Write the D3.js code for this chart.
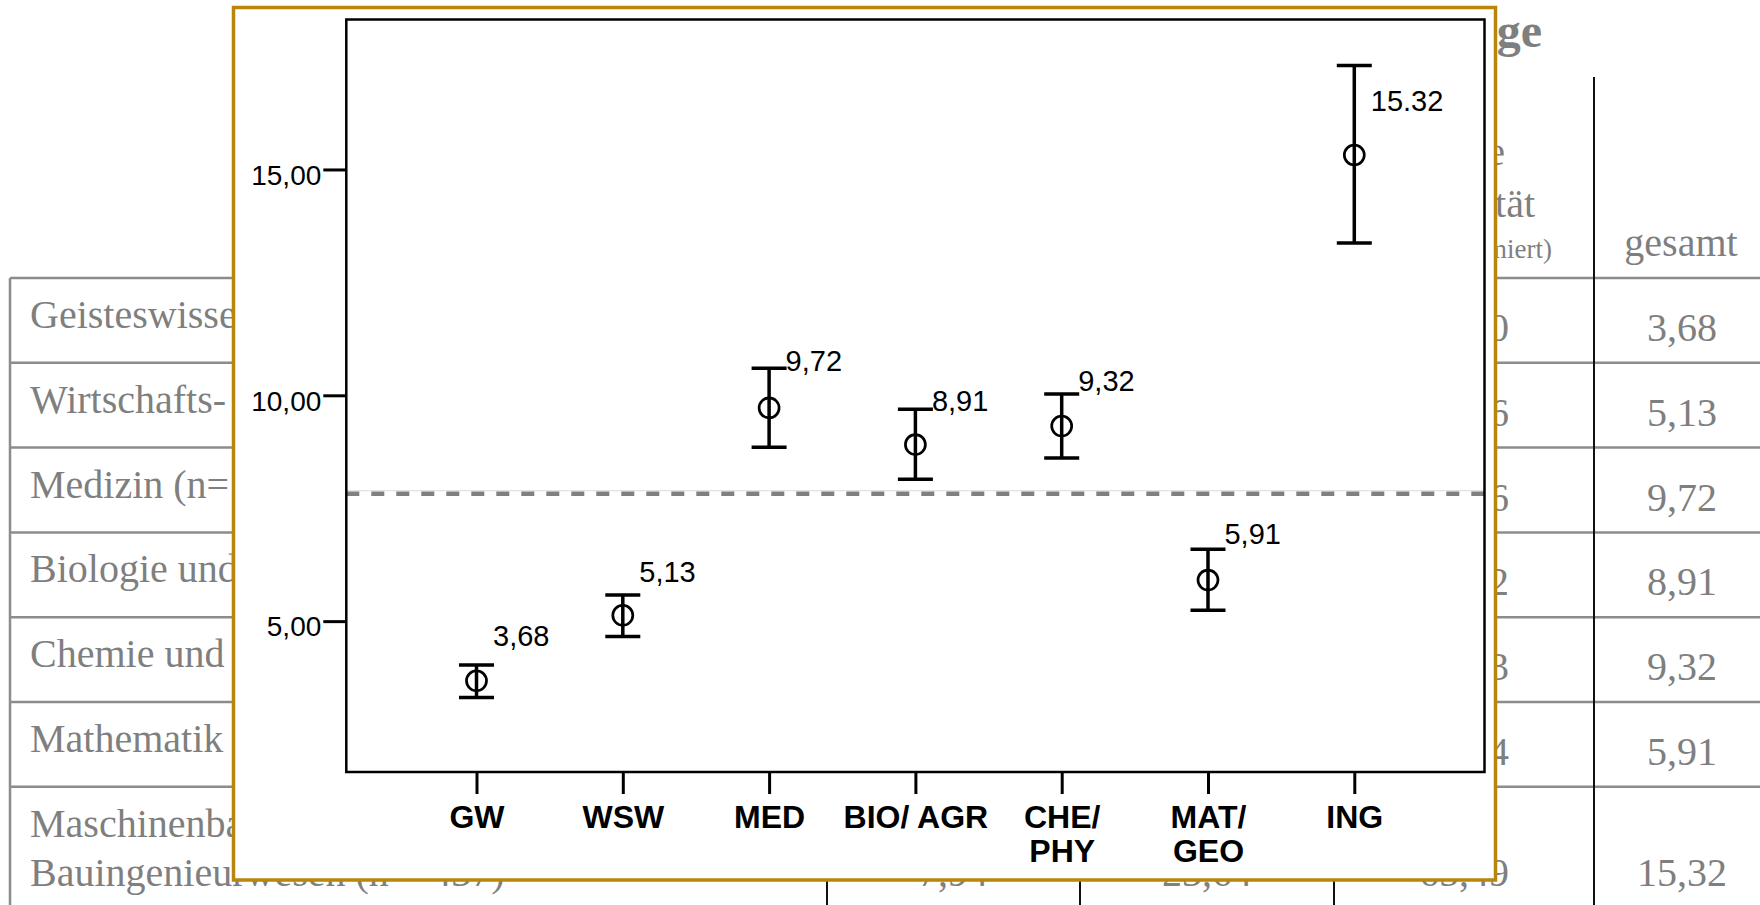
<!DOCTYPE html>
<html>
<head>
<meta charset="utf-8">
<script src="https://cdn.jsdelivr.net/npm/d3@7"></script>
<style>
  html, body { margin: 0; padding: 0; background: #fff; overflow: hidden; }
  svg { display: block; }
</style>
</head>
<body>
<svg id="chart" width="1760" height="905"></svg>
<script>
// ---- Daten: Fächergruppen, Mittelwerte, 95%-Konfidenzintervalle ----
const categories = ["GW", "WSW", "MED", "BIO/ AGR", "CHE/\nPHY", "MAT/\nGEO", "ING"];
const means      = [3.68, 5.13, 9.72, 8.91, 9.32, 5.91, 15.32];
const ciLower    = [3.31, 4.66, 8.85, 8.14, 8.61, 5.24, 13.37];
const ciUpper    = [4.03, 5.58, 10.60, 9.69, 10.03, 6.59, 17.30];
const valueLabels = ["3,68", "5,13", "9,72", "8,91", "9,32", "5,91", "15.32"];
const overallMean = 7.82;
const yTickValues = [5, 10, 15];
const yTickLabels = ["5,00", "10,00", "15,00"];

// ---- Tabelle im Hintergrund ----
const rowLabels = [
  ["Geisteswissenschaften"],
  ["Wirtschafts-"],
  ["Medizin (n="],
  ["Biologie und Agrarwissenschaften"],
  ["Chemie und"],
  ["Mathematik und Geowissenschaften"],
  ["Maschinenbau und", "Bauingenieurwesen (n = 437)"]
];
const totalLabels = means.map(v => d3.format(".2f")(v).replace(".", ","));
const column3Tails = ["0", "6", "6", "2", "3", "4"];
const lastRowValues = ["7,94", "23,64", "65,49"];
const headerLines = ["Durchschnittliche", "Produktivität"];
const headerNote = "(normiert)";
const headerTotal = "gesamt";
const titleText = "Beiträge";

const W = 1760, H = 905;
const svg = d3.select("#chart");
svg.append("rect").attr("width", W).attr("height", H).attr("fill", "#fff");

const serif = "'Liberation Serif', 'DejaVu Serif', serif";
const sans = "'Liberation Sans', Arial, sans-serif";
const tableGray = "#7f7f7f";
const ruleGray = "#8c8c8c";

// Tabellenraster
const table = svg.append("g");
const rowTop = d3.range(rowLabels.length).map(i => 278 + i * 84.8);
const colLines = [827, 1080, 1334, 1594];

table.selectAll("line.row").data(rowTop).join("line")
  .attr("x1", 10).attr("x2", W)
  .attr("y1", d => d).attr("y2", d => d)
  .attr("stroke", ruleGray).attr("stroke-width", 2.5);

table.append("line")
  .attr("x1", 10).attr("x2", 10).attr("y1", 278).attr("y2", H)
  .attr("stroke", ruleGray).attr("stroke-width", 2.5);

table.selectAll("line.col").data(colLines).join("line")
  .attr("x1", d => d).attr("x2", d => d)
  .attr("y1", 77).attr("y2", H)
  .attr("stroke", "#111").attr("stroke-width", 2);

// Zeilenbeschriftungen
rowLabels.forEach((lines, i) => {
  const t = table.append("text")
    .attr("x", 30).attr("y", rowTop[i] + 50)
    .attr("font-family", serif).attr("font-size", 40)
    .attr("fill", tableGray);
  lines.forEach((s, j) => {
    t.append("tspan").attr("x", 30).attr("dy", j === 0 ? 0 : 49).text(s);
  });
});

// Spalte "gesamt"
table.selectAll("text.total").data(totalLabels).join("text")
  .attr("x", 1682)
  .attr("y", (d, i) => i < 6 ? rowTop[i] + 63 : 886)
  .attr("text-anchor", "middle")
  .attr("font-family", serif).attr("font-size", 40)
  .attr("fill", tableGray)
  .text(d => d);

// dritte Spalte (größtenteils verdeckt)
table.selectAll("text.c3").data(column3Tails).join("text")
  .attr("x", 1509).attr("y", (d, i) => rowTop[i] + 63)
  .attr("text-anchor", "end")
  .attr("font-family", serif).attr("font-size", 40)
  .attr("fill", tableGray)
  .text(d => d);

// letzte Zeile, Spalten 1-3
const lastRowX = [953, 1207, 1464];
table.selectAll("text.last").data(lastRowValues).join("text")
  .attr("x", (d, i) => lastRowX[i]).attr("y", 886)
  .attr("text-anchor", "middle")
  .attr("font-family", serif).attr("font-size", 40)
  .attr("fill", tableGray)
  .text(d => d);

// Kopfzeile
table.append("text").attr("x", 1542).attr("y", 47)
  .attr("text-anchor", "end").attr("font-family", serif)
  .attr("font-size", 48).attr("font-weight", "bold")
  .attr("fill", tableGray).text(titleText);
table.append("text").attr("x", 1505).attr("y", 165)
  .attr("text-anchor", "end").attr("font-family", serif)
  .attr("font-size", 40).attr("fill", tableGray).text(headerLines[0]);
table.append("text").attr("x", 1535).attr("y", 217)
  .attr("text-anchor", "end").attr("font-family", serif)
  .attr("font-size", 40).attr("fill", tableGray).text(headerLines[1]);
table.append("text").attr("x", 1552).attr("y", 258)
  .attr("text-anchor", "end").attr("font-family", serif)
  .attr("font-size", 27).attr("fill", tableGray).text(headerNote);
table.append("text").attr("x", 1681).attr("y", 256)
  .attr("text-anchor", "middle").attr("font-family", serif)
  .attr("font-size", 40).attr("fill", tableGray).text(headerTotal);

// ---- Diagrammrahmen ----
svg.append("rect")
  .attr("x", 233.5).attr("y", 7.5).attr("width", 1262).attr("height", 872.5)
  .attr("fill", "#fff").attr("stroke", "#b8860b").attr("stroke-width", 3.5);

const plot = { left: 346.3, right: 1484.5, top: 19.5, bottom: 772 };

const x = d3.scalePoint()
  .domain(categories)
  .range([plot.left, plot.right])
  .padding(0.89);

const y = d3.scaleLinear()
  .domain([1.66, 18.32])
  .range([plot.bottom, plot.top]);

const g = svg.append("g");

// Referenzlinie (Gesamtmittel)
g.append("line")
  .attr("x1", plot.left).attr("x2", plot.right)
  .attr("y1", y(overallMean) - 3).attr("y2", y(overallMean) - 3)
  .attr("stroke", "#d9d9d9").attr("stroke-width", 1);
g.append("line")
  .attr("x1", plot.left).attr("x2", plot.right)
  .attr("y1", y(overallMean)).attr("y2", y(overallMean))
  .attr("stroke", "#808080").attr("stroke-width", 4.5)
  .attr("stroke-dasharray", "13,12");

// Fehlerbalken
const capHalf = 17.5;
const labelShift = [-19, -13, 3, 1.5, -2.5, -5, 45];
const pts = categories.map((c, i) => ({
  c, m: means[i], lo: ciLower[i], hi: ciUpper[i], label: valueLabels[i], shift: labelShift[i]
}));

const bars = g.selectAll("g.bar").data(pts).join("g")
  .attr("transform", d => `translate(${x(d.c)},0)`);

bars.append("line")
  .attr("x1", 0).attr("x2", 0)
  .attr("y1", d => y(d.hi)).attr("y2", d => y(d.lo))
  .attr("stroke", "#000").attr("stroke-width", 3.5);
bars.append("line")
  .attr("x1", -capHalf).attr("x2", capHalf)
  .attr("y1", d => y(d.hi)).attr("y2", d => y(d.hi))
  .attr("stroke", "#000").attr("stroke-width", 3.5);
bars.append("line")
  .attr("x1", -capHalf).attr("x2", capHalf)
  .attr("y1", d => y(d.lo)).attr("y2", d => y(d.lo))
  .attr("stroke", "#000").attr("stroke-width", 3.5);
bars.append("circle")
  .attr("cx", 0).attr("cy", d => y(d.m)).attr("r", 10)
  .attr("fill", "none").attr("stroke", "#000").attr("stroke-width", 2.7);
bars.append("text")
  .attr("x", capHalf - 1)
  .attr("y", d => y(d.hi) + d.shift)
  .attr("font-family", sans).attr("font-size", 29)
  .attr("fill", "#000")
  .text(d => d.label);

// Achsen
const yAxis = d3.axisLeft(y)
  .tickValues(yTickValues)
  .tickSize(23)
  .tickPadding(2)
  .tickFormat((d, i) => yTickLabels[i]);

const yg = g.append("g")
  .attr("transform", `translate(${plot.left},0)`)
  .call(yAxis);
yg.select(".domain").remove();
yg.selectAll(".tick line").attr("stroke", "#000").attr("stroke-width", 3);
yg.selectAll(".tick text")
  .attr("font-family", sans).attr("font-size", 28)
  .attr("fill", "#000").attr("dy", "0.53em");

const xAxis = d3.axisBottom(x).tickSize(22).tickFormat("");
const xg = g.append("g")
  .attr("transform", `translate(0,${plot.bottom})`)
  .call(xAxis);
xg.select(".domain").remove();
xg.selectAll(".tick line").attr("stroke", "#000").attr("stroke-width", 3);
xg.selectAll(".tick").each(function (d) {
  const t = d3.select(this).append("text")
    .attr("y", 56)
    .attr("text-anchor", "middle")
    .attr("font-family", sans).attr("font-size", 32).attr("font-weight", "bold")
    .attr("fill", "#000");
  d.split("\n").forEach((s, j) => {
    t.append("tspan").attr("x", 0).attr("dy", j === 0 ? 0 : 34).text(s);
  });
});

// Plotrahmen
g.append("rect")
  .attr("x", plot.left).attr("y", plot.top)
  .attr("width", plot.right - plot.left).attr("height", plot.bottom - plot.top)
  .attr("fill", "none").attr("stroke", "#000").attr("stroke-width", 2.5);
</script>
</body>
</html>
